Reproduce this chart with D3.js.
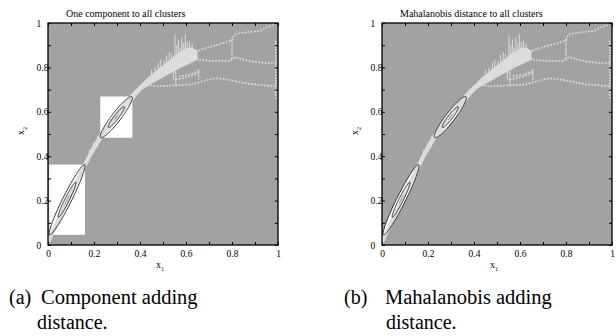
<!DOCTYPE html>
<html><head><meta charset="utf-8">
<script src="https://cdn.jsdelivr.net/npm/d3@7"></script>
<style>
body{margin:0;background:#fff}
svg{display:block}
text{font-family:"Liberation Serif","Times New Roman",serif;fill:#000}
</style>
</head><body>
<svg id="c" width="616" height="336"></svg>
<script>
// ---------- data ----------
const axisTicks = [0,0.1,0.2,0.3,0.4,0.5,0.6,0.7,0.8,0.9,1];
const axisTickLabels = ["0","","0.2","","0.4","","0.6","","0.8","","1"];

// main dense band of samples (x, lower y, upper y)
const bandX    = [0,    0.01, 0.03,  0.06, 0.09,  0.12, 0.15,  0.17,  0.19,  0.21, 0.23,  0.26,  0.29,  0.32,  0.35, 0.38,  0.41,  0.44,  0.47,  0.50, 0.53,  0.56,  0.59, 0.62,  0.65];
const bandLow  = [0,    0.015,0.06,  0.125,0.19,  0.255,0.32,  0.36,  0.40,  0.435,0.47,  0.51,  0.55,  0.59,  0.625,0.665, 0.70,  0.72,  0.738, 0.755,0.772, 0.788, 0.805,0.82,  0.835];
const bandHigh = [0.035,0.055,0.10,  0.165,0.23,  0.295,0.36,  0.40,  0.44,  0.475,0.51,  0.55,  0.59,  0.63,  0.665,0.70,  0.73,  0.76,  0.785, 0.81, 0.835, 0.86,  0.88, 0.89,  0.875];

// vertical streaks of samples (x, y from, y to)
const spikes = [
  [0.18,0.39,0.43],[0.197,0.42,0.46],[0.215,0.44,0.49],
  [0.45,0.75,0.79],[0.465,0.76,0.80],[0.48,0.77,0.82],[0.49,0.78,0.835],[0.505,0.785,0.83],
  [0.515,0.79,0.855],[0.527,0.80,0.87],[0.537,0.81,0.86],[0.545,0.745,0.80],[0.552,0.82,0.945],
  [0.56,0.83,0.90],[0.567,0.84,0.925],[0.575,0.84,0.89],[0.582,0.85,0.935],[0.59,0.855,0.91],
  [0.597,0.86,0.95],[0.605,0.865,0.915],[0.615,0.87,0.92],[0.627,0.87,0.905]
];

// sparse dotted trajectories
const branchUpper  = [[0.64,0.87],[0.68,0.885],[0.73,0.90],[0.78,0.915],[0.80,0.925],[0.81,0.945],[0.84,0.955],[0.88,0.96],[0.92,0.965],[0.95,0.98],[0.98,0.99]];
const branchMiddle = [[0.62,0.855],[0.66,0.835],[0.70,0.83],[0.75,0.83],[0.79,0.83],[0.81,0.845],[0.85,0.835],[0.90,0.825],[0.95,0.82],[0.99,0.82]];
const branchLower  = [[0.43,0.72],[0.48,0.715],[0.53,0.718],[0.58,0.72],[0.63,0.725],[0.68,0.74],[0.73,0.75],[0.78,0.745],[0.83,0.735],[0.88,0.725],[0.93,0.72],[0.99,0.715]];
const branchLoopA  = [[0.555,0.745],[0.60,0.755],[0.655,0.775]];
const branchLoopB  = [[0.57,0.76],[0.62,0.77],[0.655,0.785]];
const branchVerticals = [[0.555,0.72,0.80],[0.655,0.745,0.79],[0.80,0.84,0.93],[0.99,0.66,0.92]];

// Gaussian components: mean, 1-sd major half axis (data units), 1-sd minor (data units)
const componentMeans = [[0.083,0.204],[0.297,0.576]];
const componentAxes  = [[0.038,0.079],[0.034,0.046]];
const componentMinor = [0.0095,0.01];
const contourLevels  = [1,2];

const panelTitles  = ["One component to all clusters","Mahalanobis distance to all clusters"];
const panelLabels  = ["(a)","(b)"];
const captionLine1 = ["Component adding","Mahalanobis adding"];
const captionLine2 = ["distance.","distance."];

// ---------- drawing ----------
const svg = d3.select("#c");
const W = 230, H = 222, TOP = 23;
const lefts = [48, 382];
const BG = "#a2a2a2", PT = "#dcdcdc", PT2 = "#e2e2e2";

const bandData = bandX.map((x,i)=>({x, lo:bandLow[i], hi:bandHigh[i]}));
const branches = [branchUpper, branchMiddle, branchLower, branchLoopA, branchLoopB];

lefts.forEach((L, pi) => {
  const x = d3.scaleLinear([0,1],[0,W]);
  const y = d3.scaleLinear([0,1],[H,0]);
  const g = svg.append("g").attr("transform",`translate(${L},${TOP})`);
  const clipId = "clip"+pi;
  g.append("clipPath").attr("id",clipId).append("rect").attr("width",W).attr("height",H);
  const p = g.append("g").attr("clip-path",`url(#${clipId})`);

  p.append("rect").attr("width",W).attr("height",H).attr("fill",BG);

  function ellipsePts(ci, k){
    const [mx,my] = componentMeans[ci], [ax,ay] = componentAxes[ci];
    const cx = x(mx), cy = y(my);
    const vx = x(mx+ax)-cx, vy = y(my+ay)-cy;
    const len = Math.hypot(vx,vy);
    const nx = -vy/len, ny = vx/len;
    const mn = componentMinor[ci]*W;
    return d3.range(0,121).map(j=>{
      const t = j/120*2*Math.PI;
      return [cx + k*(Math.cos(t)*vx + Math.sin(t)*nx*mn), cy + k*(Math.cos(t)*vy + Math.sin(t)*ny*mn)];
    });
  }
  const outer = contourLevels[contourLevels.length-1];

  componentMeans.forEach((m,ci)=>{
    const pts = ellipsePts(ci, outer);
    if (pi===0){
      const xs = pts.map(d=>d[0]), ys = pts.map(d=>d[1]);
      const x0=d3.min(xs), x1=d3.max(xs), y0=d3.min(ys), y1=d3.max(ys);
      p.append("rect").attr("x",x0).attr("y",y0).attr("width",x1-x0).attr("height",y1-y0).attr("fill","#fff");
    } else {
      p.append("path").attr("d", d3.line()(pts)+"Z").attr("fill","#fff");
    }
  });

  p.append("path").datum(bandData)
    .attr("d", d3.area().x(d=>x(d.x)).y0(d=>y(d.lo)).y1(d=>y(d.hi)).curve(d3.curveCatmullRom))
    .attr("fill", PT);

  p.selectAll("line.spike").data(spikes).join("line").attr("class","spike")
    .attr("x1",d=>x(d[0])).attr("x2",d=>x(d[0])).attr("y1",d=>y(d[1])).attr("y2",d=>y(d[2]))
    .attr("stroke",PT).attr("stroke-width",1);

  const ln = d3.line().x(d=>x(d[0])).y(d=>y(d[1])).curve(d3.curveCatmullRom);
  p.selectAll("path.branch").data(branches).join("path").attr("class","branch")
    .attr("d", ln).attr("fill","none").attr("stroke",PT2).attr("stroke-width",1.6)
    .attr("stroke-dasharray","1.6 1.6");
  p.selectAll("line.vb").data(branchVerticals).join("line").attr("class","vb")
    .attr("x1",d=>x(d[0])).attr("x2",d=>x(d[0])).attr("y1",d=>y(d[1])).attr("y2",d=>y(d[2]))
    .attr("stroke",PT2).attr("stroke-width",1.4).attr("stroke-dasharray","1.6 1.2");

  componentMeans.forEach((m,ci)=>{
    p.append("path").attr("d", d3.line()(ellipsePts(ci,0.3))+"Z").attr("fill","#a8a8a8");
    contourLevels.forEach(k=>{
      p.append("path").attr("d", d3.line()(ellipsePts(ci,k))+"Z")
        .attr("fill","none").attr("stroke","#1c1c1c").attr("stroke-width",0.9);
    });
  });

  // axes (ticks inside, MATLAB box style)
  const fmt = (d,j)=>axisTickLabels[j];
  const styleAxis = a => { a.select(".domain").remove(); a.selectAll("line").attr("stroke","#000"); a.selectAll("text").attr("font-size",9.5).attr("font-family",'"Liberation Serif",serif'); };
  g.append("g").attr("transform",`translate(0,${H})`)
    .call(d3.axisBottom(x).tickValues(axisTicks).tickFormat(fmt).tickSize(-3).tickPadding(5)).call(styleAxis);
  g.append("g").call(d3.axisTop(x).tickValues(axisTicks).tickFormat("").tickSize(-3)).call(styleAxis);
  g.append("g").attr("transform",`translate(${W},0)`)
    .call(d3.axisRight(y).tickValues(axisTicks).tickFormat("").tickSize(-3)).call(styleAxis);
  const la = g.append("g").call(d3.axisLeft(y).tickValues(axisTicks).tickFormat(fmt).tickSize(-3)).call(styleAxis);
  la.selectAll("text").attr("text-anchor","start").attr("x",-11.5);

  g.append("rect").attr("width",W).attr("height",H).attr("fill","none").attr("stroke","#000").attr("stroke-width",1.3);

  g.append("text").attr("x",18).attr("y",-6).attr("font-size",10).text(panelTitles[pi]);

  const xl = g.append("text").attr("x",W/2-7).attr("y",H+23).attr("font-size",10);
  xl.append("tspan").text("x");
  xl.append("tspan").attr("dy",2.5).attr("font-size",6).text("1");
  const yl = g.append("text").attr("transform",`translate(-24,${H/2+1}) rotate(-90)`).attr("font-size",10);
  yl.append("tspan").text("x");
  yl.append("tspan").attr("dy",2.5).attr("font-size",6).text("2");
});

// captions
const capX = [[9,41,37],[344,385,386]];
capX.forEach((c,i)=>{
  svg.append("text").attr("x",c[0]).attr("y",304).attr("font-size",20).text(panelLabels[i]);
  svg.append("text").attr("x",c[1]).attr("y",304).attr("font-size",20.5).text(captionLine1[i]);
  svg.append("text").attr("x",c[2]).attr("y",329).attr("font-size",20).text(captionLine2[i]);
});
</script>
</body></html>
